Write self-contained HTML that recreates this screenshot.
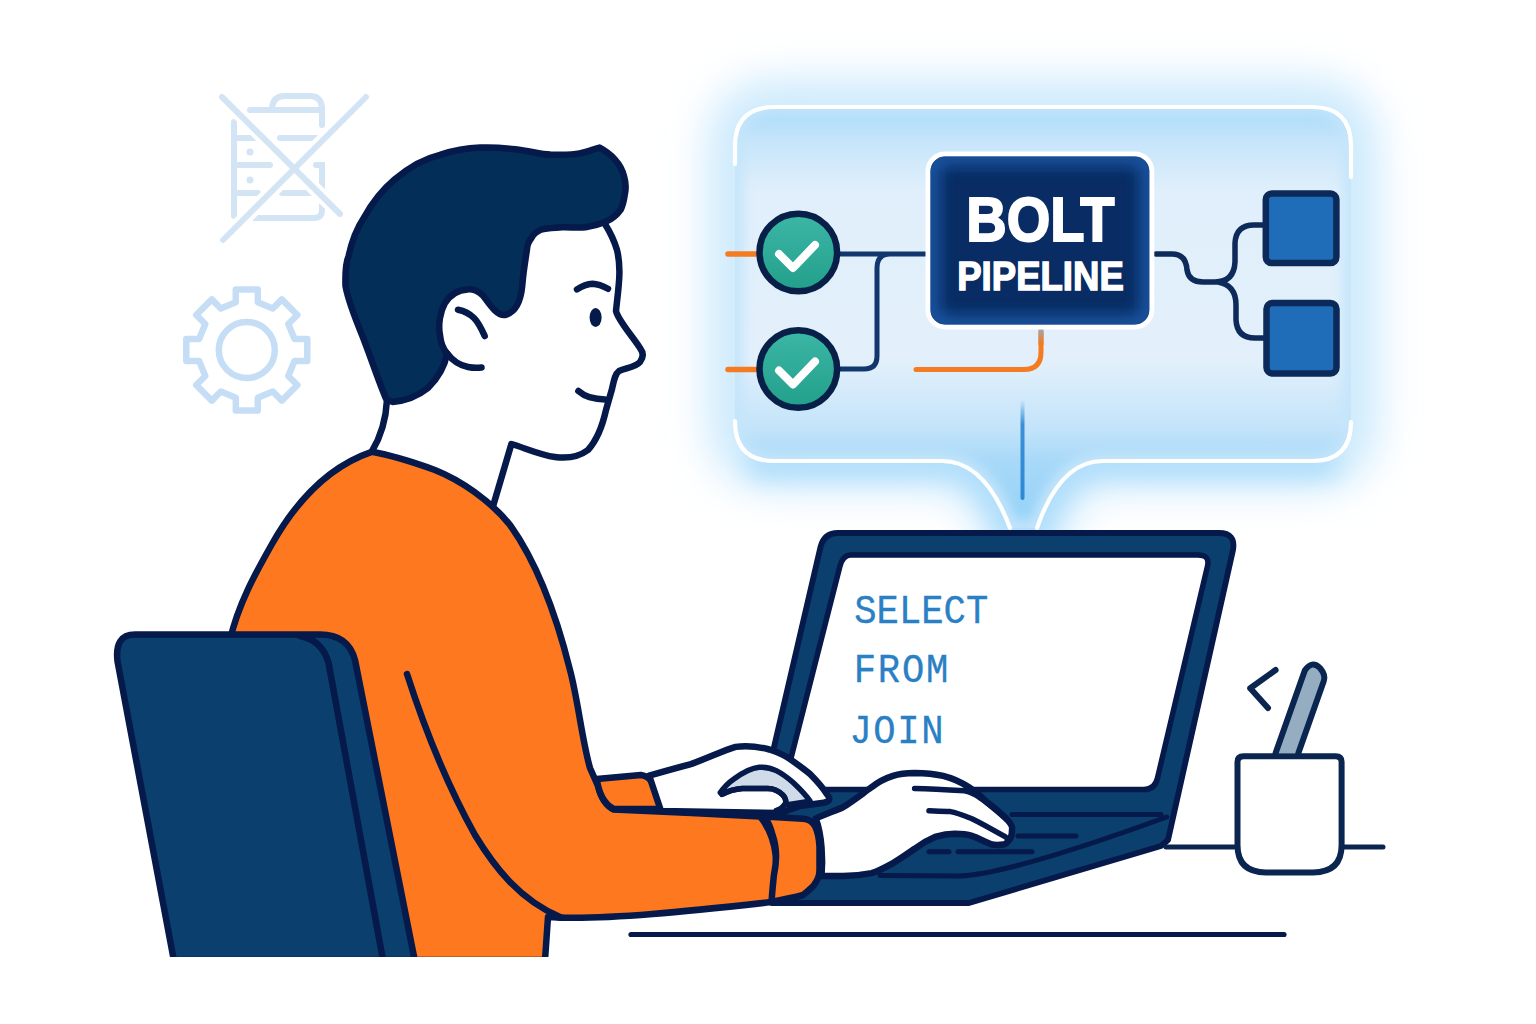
<!DOCTYPE html>
<html><head><meta charset="utf-8">
<style>
html,body{margin:0;padding:0;background:#fff;width:1536px;height:1024px;overflow:hidden}
svg{display:block}
</style></head>
<body>
<svg width="1536" height="1024" viewBox="0 0 1536 1024">
<defs>
  <filter id="blur24" x="-40%" y="-40%" width="180%" height="180%"><feGaussianBlur stdDeviation="22"/></filter>
  <filter id="blur18" x="-30%" y="-30%" width="160%" height="160%"><feGaussianBlur stdDeviation="16"/></filter>
  <filter id="blur12" x="-30%" y="-30%" width="160%" height="160%"><feGaussianBlur stdDeviation="12"/></filter>
  <filter id="blur8" x="-30%" y="-30%" width="160%" height="160%"><feGaussianBlur stdDeviation="8"/></filter>
  <filter id="blur6" x="-30%" y="-30%" width="160%" height="160%"><feGaussianBlur stdDeviation="6"/></filter>
  <filter id="blur3" x="-30%" y="-30%" width="160%" height="160%"><feGaussianBlur stdDeviation="3"/></filter>
  <radialGradient id="boxg" cx="50%" cy="50%" r="70%">
    <stop offset="0.55" stop-color="#062b63"/>
    <stop offset="1" stop-color="#1a63b8"/>
  </radialGradient>
  <linearGradient id="teal" x1="0" y1="0" x2="0" y2="1"><stop offset="0" stop-color="#3cb6a6"/><stop offset="1" stop-color="#22a08b"/></linearGradient>
  <clipPath id="bottomclip"><rect x="0" y="0" width="1536" height="957"/></clipPath>
</defs>
<rect width="1536" height="1024" fill="#fff"/>

<!-- background icons -->
<g fill="none" stroke="#d3e5f5" stroke-width="6" stroke-linecap="round">
  <path d="M234 122 V216 M250 110 H322 V125 M272 110 Q272 96 285 96 H310 Q322 96 322 110 M234 138 H258 M280 138 H318 M234 165 H270 M316 165 H322 V210 Q322 218 314 218 H250 M234 193 H258 M282 193 H315"/>
  <path d="M222 97 L340 214 M366 97 L223 240" stroke="#fff" stroke-width="14"/>
  <path d="M222 97 L340 214 M366 97 L223 240"/>
</g>
<g fill="#d3e5f5"><circle cx="250" cy="152" r="3.5"/><circle cx="250" cy="180" r="3.5"/></g>
<g fill="none" stroke="#c6def5" stroke-width="6.5" stroke-linejoin="round">
  <path d="M235.8 302.3 L235.8 289.5 L257.8 289.5 L257.8 302.3 L272.8 308.5 L281.8 299.4 L297.4 315.0 L288.3 324.0 L294.5 339.0 L307.3 339.0 L307.3 361.0 L294.5 361.0 L288.3 376.0 L297.4 385.0 L281.8 400.6 L272.8 391.5 L257.8 397.7 L257.8 410.5 L235.8 410.5 L235.8 397.7 L220.8 391.5 L211.8 400.6 L196.2 385.0 L205.3 376.0 L199.1 361.0 L186.3 361.0 L186.3 339.0 L199.1 339.0 L205.3 324.0 L196.2 315.0 L211.8 299.4 L220.8 308.5 Z"/>
  <circle cx="246.8" cy="350" r="28"/>
</g>

<!-- bubble glow -->
<defs>
  <linearGradient id="bubg" x1="0" y1="107" x2="0" y2="528" gradientUnits="userSpaceOnUse">
    <stop offset="0" stop-color="#a6d9fa"/>
    <stop offset="0.08" stop-color="#c6e5fb"/>
    <stop offset="0.2" stop-color="#e0effb"/>
    <stop offset="0.6" stop-color="#e3f0fb"/>
    <stop offset="0.76" stop-color="#c4e4fa"/>
    <stop offset="0.84" stop-color="#a8d9f8"/>
    <stop offset="1" stop-color="#92d1f8"/>
  </linearGradient>
  <linearGradient id="vline" x1="0" y1="400" x2="0" y2="498" gradientUnits="userSpaceOnUse">
    <stop offset="0" stop-color="#3a90d8" stop-opacity="0"/>
    <stop offset="0.25" stop-color="#3a90d8"/>
    <stop offset="1" stop-color="#2f88d4"/>
  </linearGradient>
  <linearGradient id="oline" x1="0" y1="329" x2="0" y2="370" gradientUnits="userSpaceOnUse">
    <stop offset="0" stop-color="#9aa8b8"/>
    <stop offset="0.35" stop-color="#f47b20"/>
    <stop offset="1" stop-color="#f47b20"/>
  </linearGradient>
  <clipPath id="bubclip"><path d="M775 107 H1312 Q1351 107 1351 146 V422 Q1351 461 1312 461 H1103 Q1060 461 1037 528 H1010 Q985 461 942 461 H774 Q735 461 735 422 V146 Q735 107 775 107 Z"/></clipPath>
</defs>
<g>
  <path d="M775 107 H1312 Q1351 107 1351 146 V422 Q1351 461 1312 461 H1103 Q1060 461 1037 528 H1010 Q985 461 942 461 H774 Q735 461 735 422 V146 Q735 107 775 107 Z" fill="none" stroke="#c6e7fc" stroke-width="50" filter="url(#blur24)"/>
  <path d="M790 104 H1296" fill="none" stroke="#a3d9fb" stroke-width="22" stroke-linecap="round" filter="url(#blur12)"/>
  <path d="M760 463 H942 Q985 463 1010 528 H1037 Q1060 463 1103 463 H1326" fill="none" stroke="#aadcfb" stroke-width="26" stroke-linecap="round" filter="url(#blur12)"/>
  <path d="M775 107 H1312 Q1351 107 1351 146 V422 Q1351 461 1312 461 H1103 Q1060 461 1037 528 H1010 Q985 461 942 461 H774 Q735 461 735 422 V146 Q735 107 775 107 Z" fill="url(#bubg)"/>
  <g clip-path="url(#bubclip)"><path d="M775 107 H1312 Q1351 107 1351 146 V422 Q1351 461 1312 461 H1103 Q1060 461 1037 528 H1010 Q985 461 942 461 H774 Q735 461 735 422 V146 Q735 107 775 107 Z" fill="none" stroke="#c4e5fb" stroke-width="16" filter="url(#blur6)"/></g>
  <path d="M735 164 V146 Q735 107 775 107 H1312 Q1351 107 1351 146 V177 M735 421 Q735 461 774 461 H942 Q985 461 1010 528 M1037 528 Q1060 461 1103 461 H1312 Q1351 461 1351 422" fill="none" stroke="#fff" stroke-width="4.2" stroke-linecap="round"/>
</g>
<!-- diagram -->
<g fill="none" stroke-linecap="round">
  <path d="M728 254 H756 M728 369.5 H756" stroke="#f47b20" stroke-width="5.5"/>
  <path d="M840 254 H925 M925 254 H890 Q877 254 877 268 V356 Q877 369 864 369 H840" stroke="#12366e" stroke-width="5"/>
  <path d="M916 369.5 H1024 Q1041 369.5 1041 352 V332" stroke="#f47b20" stroke-width="5"/>
  <path d="M1041 345 V329" stroke="url(#oline)" stroke-width="5" stroke-linecap="butt"/>
  <path d="M1022.5 398 V498" stroke="url(#vline)" stroke-width="4"/>
  <path d="M1156 254 H1172 Q1186 254 1187 270 Q1189 282 1203 282 H1215 Q1234 282 1235 262 V243 Q1236 225 1254 225 H1264 M1218 282 Q1236 285 1236 305 V320 Q1237 338 1255 338 H1264" stroke="#0d2a5a" stroke-width="5.5"/>
</g>
<g>
  <circle cx="798.3" cy="252.5" r="38.8" fill="url(#teal)" stroke="#081f48" stroke-width="6.5"/>
  <circle cx="798.3" cy="369" r="38.8" fill="url(#teal)" stroke="#081f48" stroke-width="6.5"/>
  <path d="M779 254 L793 268 L815 245 M779 370.5 L793 384.5 L815 361.5" fill="none" stroke="#fff" stroke-width="8" stroke-linecap="round" stroke-linejoin="round"/>
  <rect x="1265.8" y="193.6" width="70.6" height="69.5" rx="6" fill="#1f6db8" stroke="#0b2a5a" stroke-width="6.5"/>
  <rect x="1266.5" y="303" width="70" height="70.5" rx="6" fill="#1f6db8" stroke="#0b2a5a" stroke-width="6.5"/>
  <rect x="928" y="154" width="223.8" height="173" rx="17" fill="#082c63" stroke="#fff" stroke-width="5"/>
  <defs><clipPath id="boxclip"><rect x="930.5" y="156.5" width="218.8" height="168" rx="15"/></clipPath></defs>
  <g clip-path="url(#boxclip)"><rect x="930.5" y="156.5" width="218.8" height="168" rx="15" fill="none" stroke="#1a5aab" stroke-width="16" filter="url(#blur8)"/></g>
  <text x="1040.4" y="240.8" font-family="Liberation Sans, sans-serif" font-weight="bold" font-size="63.5" fill="#fff" stroke="#fff" stroke-width="2" text-anchor="middle" textLength="148.5" lengthAdjust="spacingAndGlyphs">BOLT</text>
  <text x="1040.5" y="290.4" font-family="Liberation Sans, sans-serif" font-weight="bold" font-size="40" fill="#fff" stroke="#fff" stroke-width="1.4" text-anchor="middle" textLength="166.5" lengthAdjust="spacingAndGlyphs">PIPELINE</text>
</g>

<!-- laptop -->
<g stroke="#05194a" stroke-width="6.5" stroke-linejoin="round" stroke-linecap="round">
  <path d="M838 533 H1219 Q1236 533 1233 550 L1168 840 L1161 846 L969 903 L772 903 L776 860 L771 760 L820.5 547 Q824 533 838 533 Z" fill="#0a3f6e" stroke-width="5.8"/>
  <path d="M851 555 H1198 Q1210 555 1207.5 566 L1157.5 778 Q1155 789.5 1144 789.5 L783 789.5 L840 566 Q843 555 851 555 Z" fill="#fff" stroke-width="5.5"/>
  <path d="M1012 814.5 H1161 M880 875.5 L960 876 Q1010 874 1166.7 817 M1018 836 H1076 M929 851.7 H949 M958 851.7 H1032" fill="none" stroke-width="5"/>
</g>
<g font-family="Liberation Mono, monospace" font-size="37.2" fill="#2a80c4" stroke="#2a80c4" stroke-width="0.3">
  <text x="854.3" y="623" letter-spacing="0" transform="matrix(1 0 0 1.09 0 -56.07)">SELECT</text>
  <text x="853.7" y="682.3" letter-spacing="1.8" transform="matrix(1 0 0 1.09 0 -61.41)">FROM</text>
  <text x="849.4" y="743.5" letter-spacing="1.6" transform="matrix(1 0 0 1.09 0 -66.91)">JOIN</text>
</g>

<g clip-path="url(#bottomclip)" stroke="#05194a" stroke-width="6.5" stroke-linejoin="round" stroke-linecap="round">
  <!-- face fill -->
  <path d="M387 398 L386 425 L371.7 451.8 L492.8 507 L511.4 444 C535 452 555 458 570 457 C590 454 598 440 604 420 L613 385 L618 371.5 C628 369 640 366 642.5 355 C630 335 618 320 616 311 C618 290 618 265 605 224 L530 240 L500 310 L440 320 L430 390 Z" fill="#fff" stroke="none"/>
  <path d="M387 400 C386 420 380 438 371.7 451.8" fill="none"/>
  <path d="M492.8 507 L511.4 444 C525 448 540 455 555 457 C570 459 580 456 588 450 C597 440 602 428 606 410 L612 389 C614 380 615 374 619 371 C626 368 636 367 640 362 C644 357 643 352 640 348 C630 333 618 320 616 311 C618 290 622 270 617 250 C614 240 610 232 605 224" fill="none"/>
  <!-- shirt -->
  <path d="M371.7 451.8 C330 466 298 498 272 544 C255 574 238 605 230 640 L218 720 L215 960 L545 960 L548 917 C600 921 700 910 772 902 C780 870 778 838 760 816.5 L691.6 813 L613.7 809.5 C606 806 601 798 598 786 L590 768 C582 740 578 700 570 670 C555 610 535 560 510 525 C490 500 460 480 434.9 470 C410 461 390 455 371.7 451.8 Z" fill="#fe7820"/>
  <path d="M407 674 C425 730 450 790 475 835 C495 868 520 900 560 917" fill="none"/>
  <!-- far sleeve -->
  <path d="M596.8 779 L640.8 774.9 C646 776 649 778 651 780.8 C655 786 656 790 657.7 794.3 C659 799 660 804 661 809 L613.7 809 C604 804 599 795 596.8 779 Z" fill="#fe7820"/>
  <!-- hair -->
  <path d="M345.5 286 C345 270 346 262 348.6 256 C352 240 357 228 364 217.5 C372 203 382 190 394.5 179.5 C408 168 422 159 440 154.8 C455 150 470 148 480 147.6 C495 147 505 148 515.2 149.3 C530 151 540 154 550.3 154.6 C562 155 572 155 579.6 153.4 C588 152 594 149 599.6 147.6 C606 151 611 155 614.8 159.3 C620 165 623 171 624.2 176.9 C626 183 626 189 624.8 194.5 C624 200 623 205 620.7 209.7 C617 215 612 219 606.6 221.4 C600 224 593 226 585.5 227.3 C577 228 570 227 562 227.3 C553 228 547 228 541 229.6 C536 232 533 235 531.6 237.8 C528 242 527 246 526.9 250 C525 262 523 275 522.2 286.25 C521 298 517 312 505 315 C497 316 490 305 483 295.6 C478 291 472 289 467.5 289.4 C458 290 450 295 445 303 C440 312 438 325 440 335 C441 345 444 350 447.2 353.4 C445 365 438 378 428 388 C418 396 405 401 392.5 401.9 C388 401 386 399 386 398.75 C378 380 370 355 362 335 C355 318 348 300 345.5 286 Z" fill="#032e58"/>
  <!-- ear -->
  <path d="M447.2 353.4 C452 360 458 365 468 367 C473 368 478 368 481.5 367.5" fill="none"/>
  <path d="M458 309.7 C465 311 470 314 474 318 C479 323 482 330 484.7 336" fill="none"/>
  <path d="M577 289.4 C582 286 587 284 592.5 283.75 C598 284 603 286 608 288.75" fill="none"/>
  <ellipse cx="595.6" cy="317.5" rx="6" ry="9.5" fill="#05194a" stroke="none"/>
  <path d="M578.4 391 C582 394 585 396 589.4 397.2 C594 398.5 600 399.4 605 399.4" fill="none"/>
  <!-- chair -->
  <path d="M135 634.6 H320 Q348 634.6 355 660 L414.7 960 L173.8 960 L117.6 662 Q114 634.6 135 634.6 Z" fill="#0a3f6e"/>
  <path d="M300 636 Q322 640 328.5 662.7 L383 960" fill="none"/>
</g>
<!-- hands -->
<g stroke="#05194a" stroke-width="6.5" stroke-linejoin="round" stroke-linecap="round">
  <path d="M649.2 775.7 C665 771 680 767 691.6 763.9 C710 757 725 750 735.6 746.9 C745 745.5 758 746.5 769.4 749.5 C777 752 784 755 789.7 758.8 C797 764 804 769 810 774 C817 781 823 788 827 794.3 C830 798 831 801 823.6 802.8 L800 806 L780 813 L661 811 Z" fill="#fff"/>
  <path d="M720.3 792.6 C725 786 728 783 733.9 779 C742 773 750 768 759.3 767.2 C765 767 771 768 776.2 770.6 C783 774 788 778 793.1 782.5 C800 789 806 795 810 801.1 L786 805 C786 800 785 797 783 795.2 C778 790 773 788.4 767.7 788.4 L742.3 788.4 C735 789 728 791 722 794.3 Z" fill="#cfdbe9" stroke-width="5.5"/>
  <path d="M722 794.3 C728 791 735 789 742.3 788.4 L767.7 788.4 C773 788.4 778 790 783 795.2 C786 798 786.5 802 784.7 804.5 C782 808 779 810 776.2 810.4" fill="none" stroke-width="5.5"/>
  <!-- front sleeve cuff -->
  <path d="M764.4 816.4 C769 823 771 829 772.6 835.2 C775 842 776 850 776.1 856.3 C776 863 775 870 773.8 876.2 C773 884 772 893 771.6 902 C782 900 792 898 803.1 895 C808 891 811 888 813.6 885.6 C818 880 819.5 876 819.5 870.3 L819.5 846.9 C819 838 817 830 814.8 825.8 C812 821 808 819 803.1 818.75 Z" fill="#fe7820"/>
  <!-- front hand -->
  <path d="M815.8 818.7 C825 814 835 811 843 807.3 C853 801 862 794 871.6 787.2 C878 782 886 778 893 775.8 C900 773.5 907 773 914.6 772.9 C925 773 935 774 943.2 775.8 C952 778 961 782 969 787.2 C975 791 981 796 986.2 801.5 C993 807 1001 813 1007.7 820.2 C1011 824 1013 827 1012 830 C1012 835 1011 838 1009 840.2 C1007 843 1005 844.5 1003.4 844.5 C999 845 995 845 992 844.5 C985 842 978 838 971.9 835.9 C966 834 960 833.8 954.7 833.8 C948 834 942 835 936 836.6 C928 840 921 844 914.6 848.8 C907 854 900 859 893 863.1 C886 867 879 871 871.6 873.1 C862 875 852 876 843 876 L821.5 876 C823 860 822 835 815.8 818.7 Z" fill="#fff"/>
  <path d="M914.6 788.6 C930 789 950 790 964.7 790.8 C970 792 975 794 979 797.2 C988 803 996 810 1004 817 M929 810.8 C936 811 943 811 950.4 811.6 C958 813 965 816 971.9 818.7 C983 824 995 831 1006 837.3" fill="none" stroke-width="5.5"/>
</g>

<!-- table, cup, pen -->
<g stroke="#0a2550" stroke-width="6" stroke-linecap="round" stroke-linejoin="round" fill="none">
  <path d="M631 934.5 H1284" stroke-width="5.2" stroke="#05194a"/>
  <path d="M1166 847 H1238 M1342 847 H1383" stroke-width="5"/>
  <path d="M1275.6 753 L1304.8 670.5 Q1312 660 1320 668 Q1326 675 1323.8 681 L1298.4 753" fill="#94adc0"/>
  <path d="M1243.5 756.3 H1335.6 Q1341.6 756.3 1341.6 762 V845 Q1341.6 872.4 1313 872.4 H1266 Q1237.5 872.4 1237.5 845 V762 Q1237.5 756.3 1243.5 756.3 Z" fill="#fff"/>
  <path d="M1275.6 670 L1250.2 688.3 L1268 708"/>
</g>
</svg>
</body></html>
